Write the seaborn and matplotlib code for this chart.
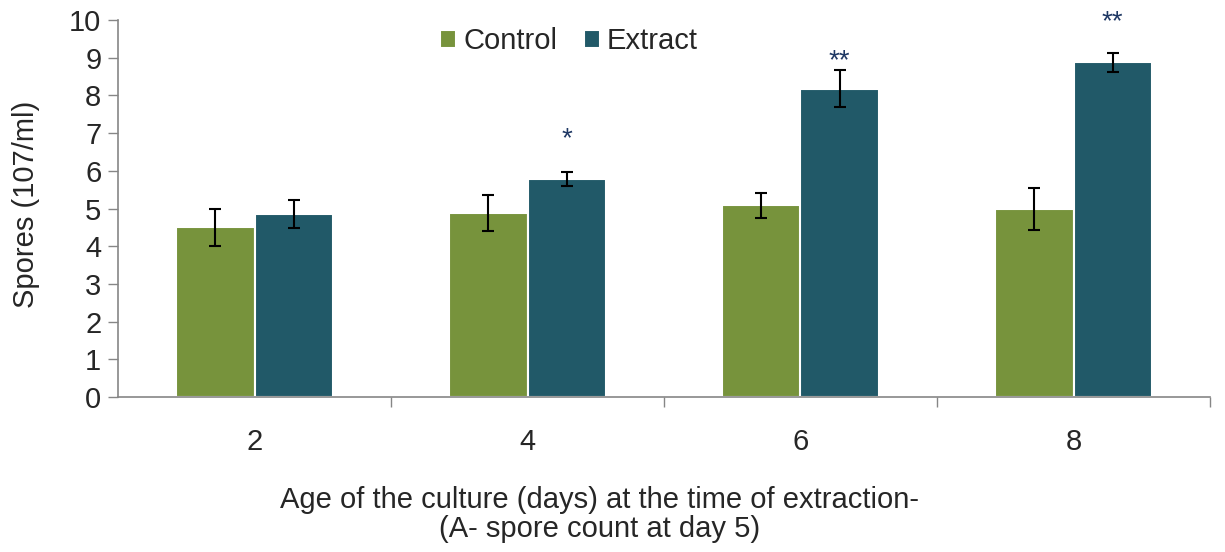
import matplotlib
matplotlib.use("Agg")
import matplotlib.pyplot as plt
import seaborn as sns
import pandas as pd
import numpy as np
from matplotlib.ticker import FixedLocator

days = ["2", "4", "6", "8"]
groups = ["Control", "Extract"]
control = [4.5, 4.88, 5.08, 4.98]
extract = [4.85, 5.78, 8.18, 8.88]
control_err = [0.5, 0.47, 0.33, 0.56]
extract_err = [0.38, 0.18, 0.5, 0.25]
stars = ["", "*", "**", "**"]
star_y = [0, 6.85, 8.9, 9.95]

sns.set_theme(style="white")
plt.rcParams['font.family'] = ['Liberation Sans', 'DejaVu Sans']

FS = 21

df = pd.DataFrame({
    "day": days * 2,
    "value": control + extract,
    "group": ["Control"] * 4 + ["Extract"] * 4,
})

fig = plt.figure(figsize=(12.25, 5.52), dpi=100)
ax = fig.add_axes([118 / 1225, 1 - 397 / 552, (1210 - 118) / 1225, (397 - 20) / 552])

palette = {"Control": "#77933C", "Extract": "#215968"}
sns.barplot(data=df, x="day", y="value", hue="group", order=days, hue_order=groups,
            palette=palette, width=0.575, edgecolor="white", linewidth=1.5,
            saturation=1, ax=ax, errorbar=None)

for container, errs in zip(ax.containers, [control_err, extract_err]):
    xs = [b.get_x() + b.get_width() / 2 for b in container]
    ys = [b.get_height() for b in container]
    ax.errorbar(xs, ys, yerr=errs, fmt="none", ecolor="black", elinewidth=1.5,
                capsize=4.5, capthick=1.5, zorder=5)

ext_container = ax.containers[1]
for b, s, sy in zip(ext_container, stars, star_y):
    if s:
        ax.text(b.get_x() + b.get_width() / 2, sy, s, ha="center", va="center",
                fontsize=20, color="#1F3864")

ax.set_ylim(0, 10)
ax.set_xlim(-0.5, 3.5)
ax.set_yticks(range(0, 11))
ax.tick_params(axis="y", labelsize=FS, length=7, width=1, color="#868686",
               direction="out", left=True, pad=5)
ax.tick_params(axis="x", which="major", labelsize=FS, length=0, pad=22)
ax.xaxis.set_minor_locator(FixedLocator([0.5, 1.5, 2.5, 3.5]))
ax.tick_params(axis="x", which="minor", length=7, width=1, color="#868686",
               direction="out", bottom=True)

for side in ["top", "right"]:
    ax.spines[side].set_visible(False)
for side in ["left", "bottom"]:
    ax.spines[side].set_color("#868686")
    ax.spines[side].set_linewidth(1.2)

ax.set_ylabel("Spores (107/ml)", fontsize=FS)
ax.yaxis.set_label_coords(-0.071, 0.51)
ax.set_xlabel("Age of the culture (days) at the time of extraction-\n(A- spore count at day 5)",
              fontsize=FS, linespacing=1.05)
ax.xaxis.set_label_coords(0.441, -0.237)

ax.legend(loc="upper center", bbox_to_anchor=(0.413, 1.05), ncol=2, frameon=False,
          fontsize=FS, handlelength=0.55, handleheight=0.55, handletextpad=0.25,
          columnspacing=0.9)

fig.savefig("out.png", dpi=100)
